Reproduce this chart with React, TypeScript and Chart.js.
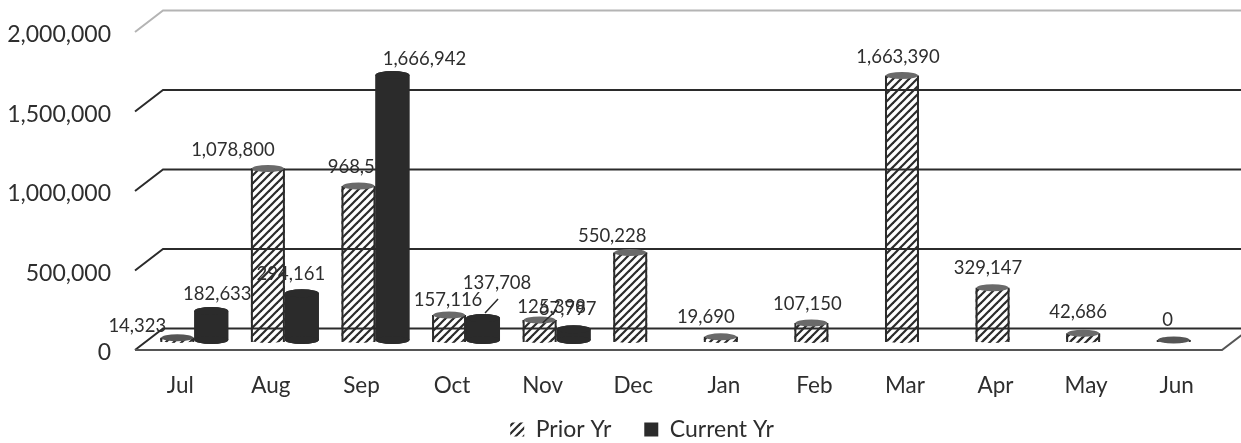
import React, { useEffect, useRef } from "react";
import { Chart, registerables } from "chart.js";

Chart.register(...registerables);

const MONTHS = ["Jul", "Aug", "Sep", "Oct", "Nov", "Dec", "Jan", "Feb", "Mar", "Apr", "May", "Jun"];
const PRIOR_YR = [14323, 1078800, 968598, 157116, 125398, 550228, 19690, 107150, 1663390, 329147, 42686, 0];
const CURRENT_YR = [182633, 294161, 1666942, 137708, 67797, null, null, null, null, null, null, null];

// Manually placed data labels in the reference: offsets from the top of each bar
const PRIOR_LABEL_OFFSETS = [[-40, -12], [-35, -18], [3.5, -19], [-1, -15], [12, -13], [-18, -16.5], [-15, -20], [-4, -19], [-4, -18], [-4.6, -20], [-5, -21], [-6, -20]];
const CURRENT_LABEL_OFFSETS = [[6, -17], [-11, -19], [32, -16], [14, -35], [-6, -20]];

const DEPTH_X = 28;
const DEPTH_Y = 21.5;
const BAR_SHIFT_X = 14;
const BAR_SHIFT_Y = 10;
const CAP = 4;
const INK = "#2b2b2b";
const TEXT = "#2e2e2e";
const FONT = "Lato";
const fmt = (v: number) => v.toLocaleString("en-US");

function makeHatch() {
  const c = document.createElement("canvas");
  c.width = 8;
  c.height = 8;
  const g = c.getContext("2d")!;
  g.strokeStyle = INK;
  g.lineWidth = 2.2;
  g.lineCap = "square";
  for (const o of [-8, 0, 8]) {
    g.beginPath();
    g.moveTo(o, 8);
    g.lineTo(o + 8, 0);
    g.stroke();
  }
  return g.createPattern(c, "repeat")!;
}

function drawCylinderParts(ctx: CanvasRenderingContext2D, bar: any, solid: boolean, hatch: CanvasPattern) {
  const rx = bar.width / 2;
  const h = bar.base - bar.y;
  ctx.save();
  ctx.fillStyle = solid ? INK : hatch;
  ctx.strokeStyle = INK;
  ctx.lineWidth = 2;
  ctx.beginPath();
  ctx.ellipse(bar.x, bar.base, rx, solid ? CAP : 3, 0, 0, Math.PI * 2);
  ctx.fill();
  if (!solid) {
    ctx.beginPath();
    ctx.moveTo(bar.x - rx + 1, bar.y);
    ctx.lineTo(bar.x - rx + 1, bar.base + 2);
    ctx.moveTo(bar.x + rx - 1, bar.y);
    ctx.lineTo(bar.x + rx - 1, bar.base + 2);
    ctx.stroke();
  }
  ctx.fillStyle = solid ? INK : h < 3 ? "#555555" : "#6a6a6a";
  ctx.beginPath();
  ctx.ellipse(bar.x, bar.y, rx - (solid ? 0 : 1), solid ? CAP : 3.5, 0, 0, Math.PI * 2);
  ctx.fill();
  ctx.restore();
}

function makePlugin(hatch: CanvasPattern) {
  const drawLabel = (ctx: CanvasRenderingContext2D, bar: any, text: string, off: number[]) => {
    ctx.fillText(text, bar.x + off[0], bar.y + off[1]);
  };
  return {
    id: "threeD",
    afterLayout(chart: any) {
      // legend sits lower than the automatic box placement
      chart.legend.top += 12;
      chart.legend.bottom += 12;
    },
    beforeDatasetsDraw(chart: any) {
      const { ctx, chartArea: a, scales } = chart;
      const y = scales.y;
      ctx.save();
      ctx.lineWidth = 2;
      for (const t of y.ticks) {
        const py = y.getPixelForValue(t.value);
        ctx.strokeStyle = t.value === y.max ? "#b4b4b4" : INK;
        ctx.beginPath();
        ctx.moveTo(a.left, py);
        ctx.lineTo(a.left + DEPTH_X, py - DEPTH_Y);
        ctx.lineTo(chart.width, py - DEPTH_Y);
        ctx.stroke();
      }
      const p0 = y.getPixelForValue(0);
      ctx.strokeStyle = "#555";
      ctx.beginPath();
      ctx.moveTo(a.left, p0);
      ctx.lineTo(a.right, p0);
      ctx.lineTo(a.right + DEPTH_X, p0 - DEPTH_Y);
      ctx.stroke();
      ctx.restore();
      ctx.save();
      ctx.translate(BAR_SHIFT_X, -BAR_SHIFT_Y);
    },
    afterDatasetDraw(chart: any, args: any) {
      const meta = chart.getDatasetMeta(args.index);
      const vals = chart.data.datasets[args.index].data;
      meta.data.forEach((bar: any, i: number) => {
        if (vals[i] === null) return;
        drawCylinderParts(chart.ctx, bar, args.index === 1, hatch);
      });
    },
    afterDatasetsDraw(chart: any) {
      const ctx = chart.ctx;
      const prior = chart.getDatasetMeta(0).data;
      const current = chart.getDatasetMeta(1).data;
      ctx.font = `18.5px ${FONT}`;
      ctx.fillStyle = TEXT;
      ctx.textAlign = "center";
      ctx.textBaseline = "middle";
      PRIOR_YR.forEach((v, i) => drawLabel(ctx, prior[i], fmt(v), PRIOR_LABEL_OFFSETS[i]));
      // Current bars sit in front of the prior bars and of the prior labels.
      CURRENT_YR.forEach((v, i) => {
        if (v === null) return;
        current[i].draw(ctx);
        drawCylinderParts(ctx, current[i], true, hatch);
      });
      ctx.fillStyle = TEXT;
      CURRENT_YR.forEach((v, i) => {
        if (v === null) return;
        drawLabel(ctx, current[i], fmt(v), CURRENT_LABEL_OFFSETS[i]);
      });
      // leader lines of the two displaced labels
      ctx.strokeStyle = INK;
      ctx.lineWidth = 1.5;
      ctx.beginPath();
      ctx.moveTo(current[3].x + 15, current[3].y - 19);
      ctx.lineTo(current[3].x + 2, current[3].y - 5);
      ctx.moveTo(prior[4].x + 17, prior[4].y - 10);
      ctx.lineTo(prior[4].x + 3, prior[4].y + 3);
      ctx.stroke();
      ctx.restore();
    },
  };
}

// The fixed axis boxes are narrower than their labels; keep the labels unclipped.
const noLabelClip = (s: any) => {
  s._computeLabelArea = () => undefined;
};

export default function App() {
  const ref = useRef<HTMLCanvasElement>(null);
  useEffect(() => {
    const hatch = makeHatch();
    const chart = new Chart(ref.current!, {
      type: "bar",
      data: {
        labels: MONTHS,
        datasets: [
          { label: "Prior Yr", data: PRIOR_YR, backgroundColor: hatch, borderWidth: 0, clip: false, categoryPercentage: 0.75, barPercentage: 1 },
          { label: "Current Yr", data: CURRENT_YR, backgroundColor: INK, borderWidth: 0, clip: false, categoryPercentage: 0.75, barPercentage: 1 },
        ],
      } as any,
      options: {
        responsive: false,
        animation: false,
        layout: { padding: { left: 62, right: 19, top: 32, bottom: 4 } },
        plugins: {
          tooltip: { enabled: false },
          legend: {
            position: "bottom",
            labels: {
              boxWidth: 14,
              boxHeight: 14,
              padding: 33,
              color: TEXT,
              font: { family: FONT, size: 23 },
            },
          },
        },
        scales: {
          x: {
            grid: { display: false, drawTicks: false },
            border: { display: false },
            afterFit(s: any) { s.height = 23; noLabelClip(s); },
            ticks: { padding: 22, color: TEXT, font: { family: FONT, size: 22.5 }, maxRotation: 0, autoSkip: false },
          },
          y: {
            min: 0,
            max: 2000000,
            grid: { display: false, drawTicks: false },
            border: { display: false },
            afterFit(s: any) {
              s.width = 73;
              s.paddingTop = 0;
              s.paddingBottom = 0;
              noLabelClip(s);
            },
            ticks: {
              stepSize: 500000,
              padding: 24,
              labelOffset: 3,
              color: TEXT,
              font: { family: FONT, size: 23 },
              callback: (v: any) => fmt(Number(v)),
            },
          },
        },
      },
      plugins: [makePlugin(hatch)],
    } as any);
    return () => chart.destroy();
  }, []);
  return (
    <canvas
      ref={ref}
      width={1241}
      height={443}
      style={{ position: "fixed", left: 0, top: 0, width: 1241, height: 443, display: "block" }}
    />
  );
}
